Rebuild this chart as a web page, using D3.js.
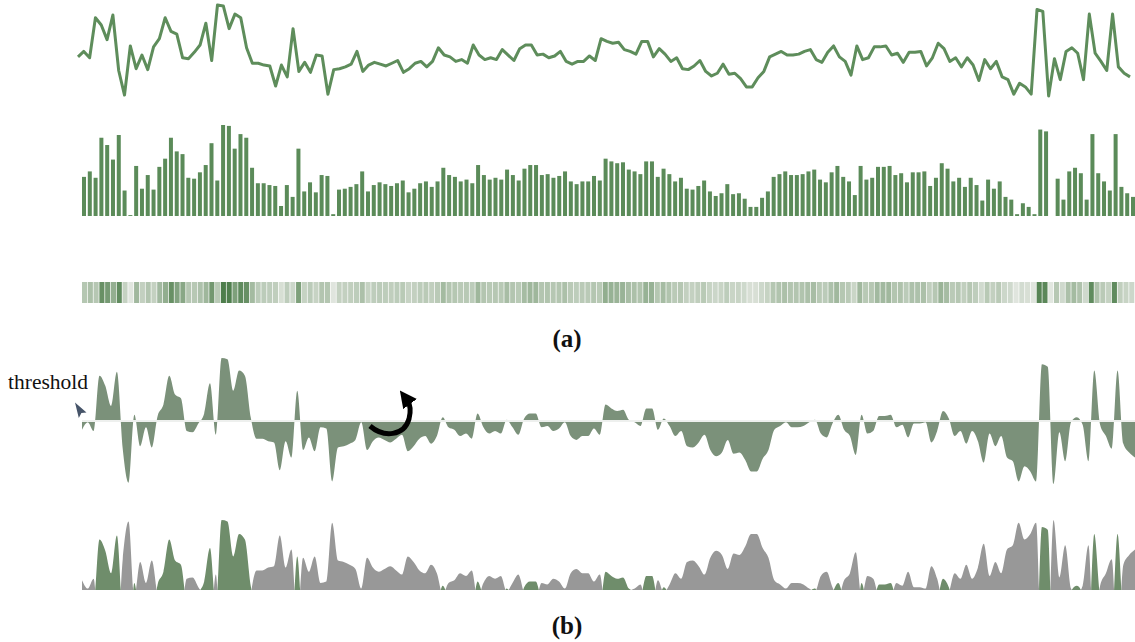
<!DOCTYPE html>
<html>
<head>
<meta charset="utf-8">
<script src="https://cdn.jsdelivr.net/npm/d3@7"></script>
<style>
  html, body { margin: 0; padding: 0; background: #fff; }
  svg { display: block; }
</style>
</head>
<body>
<svg id="chart" width="1135" height="642"></svg>
<script>
// Daily series (0–100 scale)
const values = [
  43, 49, 42, 86, 78, 62, 89, 28, 1, 55, 30, 45, 29, 54, 63, 86, 71, 68, 42, 41,
  48, 56, 80, 39, 100, 99, 74, 90, 86, 53, 36, 36, 34, 33, 11, 34, 21, 74, 27, 37,
  26, 45, 44, 2, 29, 30, 32, 35, 49, 27, 34, 37, 35, 33, 36, 39, 26, 30, 36, 38,
  32, 38, 53, 45, 43, 38, 40, 36, 56, 45, 40, 42, 40, 51, 45, 39, 52, 56, 56, 45,
  46, 42, 44, 49, 38, 35, 38, 38, 44, 39, 63, 60, 58, 59, 51, 49, 46, 60, 60, 43,
  52, 46, 38, 42, 30, 29, 33, 39, 27, 22, 25, 35, 24, 25, 19, 10, 10, 20, 27, 43,
  46, 49, 45, 45, 46, 49, 51, 40, 37, 48, 55, 43, 38, 23, 55, 40, 42, 54, 54, 55,
  45, 47, 37, 48, 48, 49, 33, 42, 58, 52, 38, 42, 32, 42, 34, 17, 40, 30, 38, 21,
  18, 2, 14, 10, 2, 95, 93, 0, 41, 18, 49, 53, 47, 18, 90, 47, 38, 28, 90, 32,
  25, 21
];
const threshold = 50;
const panelLabels = ["(a)", "(b)"];
const thresholdLabel = "threshold";

const n = values.length;
const idx = d3.range(n);
const svg = d3.select("#chart");

const green = "#5b8b59";

// ---- (a) line ----
const xLine = d3.scalePoint().domain(idx).range([78, 1130]);
const yLine = d3.scaleLinear().domain([0, 100]).range([96, 5]);
svg.append("path")
  .datum(values)
  .attr("fill", "none")
  .attr("stroke", "#5e8d5b")
  .attr("stroke-width", 3)
  .attr("stroke-linejoin", "round")
  .attr("d", d3.line().x((d, i) => xLine(i)).y(d => yLine(d)));

// ---- (a) bars ----
const xBar = d3.scalePoint().domain(idx).range([84, 1133]);
const yBar = d3.scaleLinear().domain([0, 100]).range([216, 125]);
const barW = 4;
svg.append("g").selectAll("rect")
  .data(values)
  .join("rect")
  .attr("x", (d, i) => xBar(i) - barW / 2)
  .attr("width", barW)
  .attr("y", d => yBar(d))
  .attr("height", d => yBar(0) - yBar(d))
  .attr("fill", green);

// ---- (a) colour strip ----
const xCell = d3.scaleBand().domain(idx).range([82, 1135]);
const cellColor = d3.scaleLinear().domain([0, 45, 100])
  .range(["#e2e7e0", "#b3c5b0", "#4e7e4c"]);
svg.append("g").selectAll("rect")
  .data(values)
  .join("rect")
  .attr("x", (d, i) => xCell(i))
  .attr("width", xCell.bandwidth() - 0.7)
  .attr("y", 282)
  .attr("height", 21)
  .attr("fill", d => cellColor(d));

// ---- (b) threshold area ----
const xB = d3.scalePoint().domain(idx).range([82, 1135]);
const yThr = d3.scaleLinear().domain([0, 100]).range([484, 358]);
svg.append("path")
  .datum(values)
  .attr("fill", "#7b917a")
  .attr("d", d3.area()
    .curve(d3.curveMonotoneX)
    .x((d, i) => xB(i))
    .y0(yThr(threshold))
    .y1(d => yThr(d)));
svg.append("line")
  .attr("x1", 82).attr("x2", 1135)
  .attr("y1", yThr(threshold)).attr("y2", yThr(threshold))
  .attr("stroke", "#eef0ee")
  .attr("stroke-width", 2);

// ---- (b) mirrored deviation chart ----
const base = 590;
const yDev = d3.scaleLinear().domain([0, 50]).range([base, 520]);
const defs = svg.append("defs");
defs.append("clipPath").attr("id", "above")
  .append("rect").attr("x", 0).attr("y", 0).attr("width", 1135).attr("height", base);

const devArea = sign => d3.area()
  .curve(d3.curveMonotoneX)
  .x((d, i) => xB(i))
  .y0(base)
  .y1(d => yDev(sign * (d - threshold)));

svg.append("path")
  .datum(values)
  .attr("clip-path", "url(#above)")
  .attr("fill", "#989898")
  .attr("d", devArea(-1));
svg.append("path")
  .datum(values)
  .attr("clip-path", "url(#above)")
  .attr("fill", "#6f8d6b")
  .attr("d", devArea(1));

// ---- annotations ----
svg.append("text")
  .attr("x", 8).attr("y", 389)
  .attr("font-family", "'Liberation Serif', 'Times New Roman', serif")
  .attr("font-size", 21.5)
  .attr("fill", "#111")
  .text(thresholdLabel);

// pointer cursor
svg.append("path")
  .attr("d", "M75,402.5 L86.5,412.5 L81.4,412.9 L78.8,418 Z")
  .attr("fill", "#465469");

// curved arrow
defs.append("marker")
  .attr("id", "head")
  .attr("viewBox", "0 0 10 10")
  .attr("refX", 3).attr("refY", 5)
  .attr("markerWidth", 3.4).attr("markerHeight", 3.4)
  .attr("orient", "auto")
  .append("path").attr("d", "M0,0 L10,5 L0,10 Z").attr("fill", "#000");
svg.append("path")
  .attr("d", "M370,426 C384,438 404,436 409,419 C411,411 410,404 407,400")
  .attr("fill", "none")
  .attr("stroke", "#000")
  .attr("stroke-width", 5)
  .attr("marker-end", "url(#head)");

svg.append("g").selectAll("text")
  .data(panelLabels)
  .join("text")
  .attr("x", 567)
  .attr("y", (d, i) => i === 0 ? 347 : 634)
  .attr("text-anchor", "middle")
  .attr("font-family", "'Liberation Serif', 'Times New Roman', serif")
  .attr("font-weight", "bold")
  .attr("font-size", 25)
  .attr("fill", "#111")
  .text(d => d);
</script>
</body>
</html>
